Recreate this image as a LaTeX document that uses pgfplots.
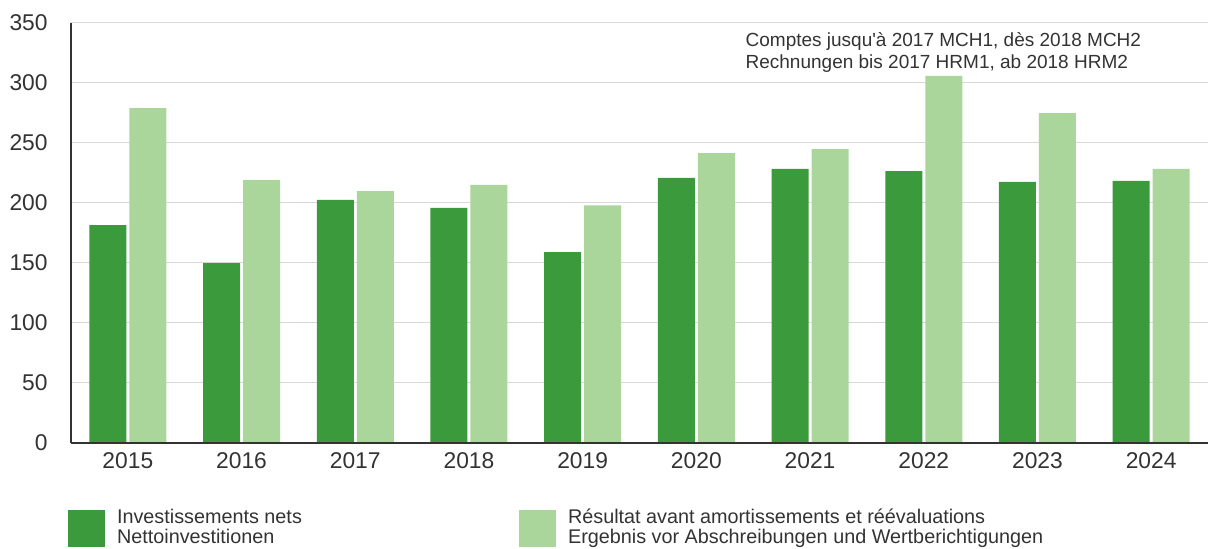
\documentclass[border=0pt]{standalone}
\usepackage{pgfplots}
\pgfplotsset{compat=1.18}
\usepackage{fontspec}
\setmainfont{Liberation Sans}[Ligatures=TeXOff]
\definecolor{darkg}{HTML}{3B9A3B}
\definecolor{lightg}{HTML}{ABD69B}
\definecolor{txt}{HTML}{333333}
\definecolor{gridc}{HTML}{D9D9D9}
\begin{document}
\begin{tikzpicture}
\useasboundingbox (-35.5pt,-53.15pt) rectangle (568.5pt,221.35pt);
\begin{axis}[
  at={(0pt,0pt)}, anchor=south west,
  scale only axis, width=568.5pt, height=210pt,
  xmin=-0.5, xmax=9.5, ymin=0, ymax=350,
  xtick={0,...,9},
  xticklabels={2015,2016,2017,2018,2019,2020,2021,2022,2023,2024},
  ytick={0,50,...,350},
  /pgf/number format/assume math mode=true,
  ymajorgrids, grid style={draw=gridc, line width=0.75pt},
  axis lines*=left,
  axis line style={-, draw=txt, line width=1pt},
  major tick length=0pt,
  tick label style={font=\fontsize{11.4}{12}\selectfont, text=txt, inner sep=0pt},
  yticklabel style={anchor=east}, yticklabel shift=11.5pt,
  xticklabel style={anchor=north}, xticklabel shift=4.5pt,
  ybar, bar width=18.5pt,
  legend columns=2,
  legend cell align=left,
  legend style={at={(rel axis cs:-0.0026,-0.165)}, anchor=north west, yshift=1.5pt,
    draw=none, fill=none, inner sep=0pt, outer sep=0pt,
    font=\fontsize{9.9}{10}\selectfont, text=txt,
    nodes={inner sep=0pt},
    /tikz/every odd column/.append style={column sep=6pt}},
]
\addplot[fill=darkg, draw=none, bar shift=-10pt,
  legend image code/.code={\fill[darkg] (0pt,-12pt) rectangle (18.5pt,6.5pt);}]
  coordinates {(0,181.4) (1,149.7) (2,202.3) (3,195.6) (4,158.9) (5,220.6) (6,228.1) (7,226.4) (8,217.3) (9,218.1)};
\addlegendentry{\begin{tabular}{@{}p{201pt}@{}}Investissements nets\\Nettoinvestitionen\end{tabular}}
\addplot[fill=lightg, draw=none, bar shift=10pt,
  legend image code/.code={\fill[lightg] (0pt,-12pt) rectangle (18.5pt,6.5pt);}]
  coordinates {(0,278.9) (1,218.9) (2,209.7) (3,214.8) (4,197.8) (5,241.4) (6,244.7) (7,305.6) (8,274.7) (9,228.1)};
\addlegendentry{\begin{tabular}{@{}l@{}}Résultat avant amortissements et réévaluations\\Ergebnis vor Abschreibungen und Wertberichtigungen\end{tabular}}
\draw[txt, line width=1pt] (rel axis cs:0,0) -- (rel axis cs:1,0);
\node[anchor=north west, align=left, font=\fontsize{9.5}{10.7}\selectfont, text=txt, inner sep=0pt]
  at (rel axis cs:0.593,0.9766) {Comptes jusqu'à 2017 MCH1, dès 2018 MCH2\\Rechnungen bis 2017 HRM1, ab 2018 HRM2};
\end{axis}
\end{tikzpicture}
\end{document}
